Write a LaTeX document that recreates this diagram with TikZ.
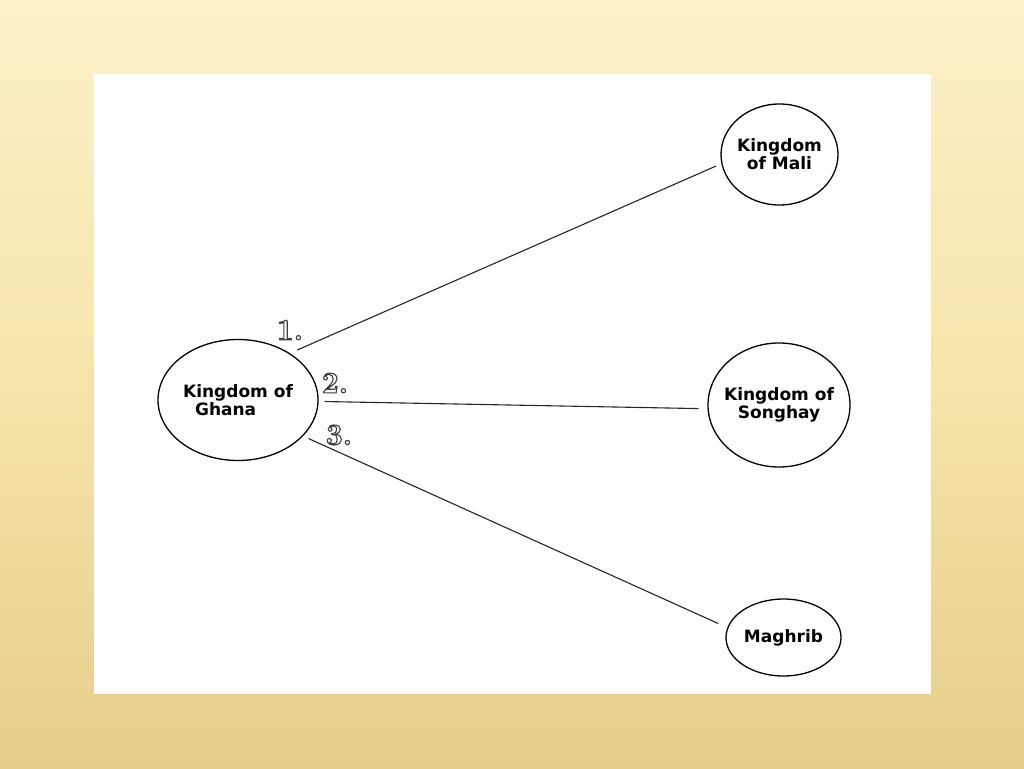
\documentclass[tikz,border=0pt]{standalone}
\usepackage{fontspec}
\setsansfont{DejaVu Sans}
\usepackage{xcolor}
\usepackage{tikz}
\usetikzlibrary{shapes.geometric,positioning,calc}

\definecolor{sandtop}{RGB}{253,241,202}
\definecolor{sandmid}{RGB}{246,228,170}
\definecolor{sandbot}{RGB}{230,206,138}

\tikzset{
	realm/.style={draw,ellipse,line width=1.3pt,inner sep=-20pt,align=center,
		font=\sffamily\bfseries\fontsize{17}{18}\selectfont},
	route/.style={line width=1.1pt,black!85},
	routeno/.style={inner sep=0pt,text=black!75,font=\rmfamily\bfseries\fontsize{30}{30}\selectfont}
}
\newcommand{\hollow}[1]{\special{pdf:literal direct 1 Tr 1.1 w}#1\special{pdf:literal direct 0 Tr}}

\begin{document}
\begin{tikzpicture}[x=1pt,y=-1pt]
		% slide background
		\useasboundingbox (0,0) rectangle (1024,768);
		\shade[top color=sandtop,bottom color=sandbot,middle color=sandmid] (0,0) rectangle (1024,768);
		\fill[white] (94,74) rectangle (931,694);
		% kingdoms
		\node[realm,minimum width=160pt,minimum height=121pt,align=left] (ghana) at (238,400) {Kingdom of\\\hspace*{12pt}Ghana};
		\node[realm,minimum width=117pt,minimum height=101pt] (mali) at (779.5,154.5) {Kingdom\\of Mali};
		\node[realm,minimum width=142pt,minimum height=124pt] (songhay) at (779,405) {Kingdom of\\Songhay};
		\node[realm,minimum width=115pt,minimum height=77pt] (maghrib) at (783.5,637.5) {Maghrib};
		% routes
		\draw[route,shorten <=8pt,shorten >=6pt] (ghana.42.8) -- (mali.189.8);
		\draw[route,shorten <=6pt,shorten >=9pt] (ghana.-1.4) -- (songhay.183.4);
		\draw[route,shorten <=6pt,shorten >=10pt] (ghana.-29.9) -- (maghrib.170.7);
		% numbers
		\node[routeno] (n1) at (290,330) {\hollow{1.}};
		\node[routeno] (n2) at (335,383) {\hollow{2.}};
		\node[routeno] (n3) at (339,435) {\hollow{3.}};
	\end{tikzpicture}
\end{document}
